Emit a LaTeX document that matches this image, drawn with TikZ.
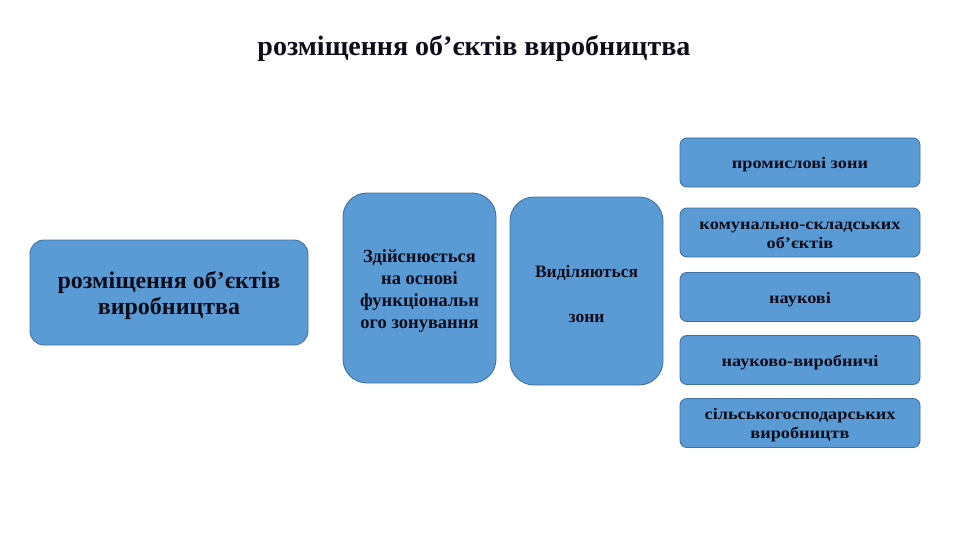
\documentclass[tikz,border=0pt]{standalone}
\usepackage{fontspec}
\setmainfont{Liberation Serif}
\newfontfamily\widefont[FakeStretch=1.14]{Liberation Serif}
\begin{document}
\begin{tikzpicture}[x=1pt,y=-1pt,
  boxbase/.style={draw=boxedge, fill=boxfill, line width=0.9pt, inner sep=0pt},
  bigbox/.style={boxbase, rounded corners=14pt, minimum width=278pt, minimum height=105pt},
  tallbox/.style={boxbase, rounded corners=24pt, minimum width=153pt, minimum height=190pt},
  zonebox/.style={boxbase, rounded corners=7pt, minimum width=240pt, minimum height=49pt},
  lbl/.style={text=txt, align=center, inner sep=0pt},
  biglbl/.style={lbl, font=\bfseries\fontsize{24}{26.5}\selectfont},
  talllbl/.style={lbl, font=\bfseries\fontsize{18.5}{22}\selectfont},
  zonelbl/.style={lbl, font=\widefont\bfseries\fontsize{16}{19}\selectfont}]
\definecolor{boxfill}{HTML}{5B9BD5}
\definecolor{boxedge}{HTML}{41719C}
\definecolor{txt}{HTML}{0D0D1A}
\useasboundingbox (0,0) rectangle (960,540);
\node[font=\bfseries\fontsize{28}{30}\selectfont, text=txt] (title) at (474,48) {розміщення об’єктів виробництва};
% boxes
\node[bigbox] (main) at (169,292.5) {};
\node[tallbox] (impl) at (419.5,288) {};
\node[tallbox, minimum height=188pt] (zones) at (586.5,291) {};
\node[zonebox] (z1) at (800,162.5) {};
\node[zonebox] (z2) at (800,232.5) {};
\node[zonebox] (z3) at (800,297) {};
\node[zonebox] (z4) at (800,360) {};
\node[zonebox] (z5) at (800,423) {};
% texts
\node[biglbl] (mainlbl) at ([yshift=-3pt]main.center) {розміщення об’єктів\\виробництва};
\node[talllbl] (impllbl) at ([yshift=-3pt]impl.center) {Здійснюється\\на основі\\функціональн\\ого зонування};
\node[lbl, font=\bfseries\fontsize{17.5}{22}\selectfont] (zoneslbl) at ([yshift=-3pt]zones.center) {Виділяються\\[23pt]зони};
\node[zonelbl] (z1lbl) at ([yshift=-2.5pt]z1.center) {промислові зони};
\node[zonelbl] (z2lbl) at ([yshift=-3pt]z2.center) {комунально-складських\\об’єктів};
\node[zonelbl] (z3lbl) at ([yshift=-2.5pt]z3.center) {наукові};
\node[zonelbl] (z4lbl) at ([yshift=-2.5pt]z4.center) {науково-виробничі};
\node[zonelbl] (z5lbl) at ([yshift=-2pt]z5.center) {сільськогосподарських\\виробництв};
\end{tikzpicture}
\end{document}
